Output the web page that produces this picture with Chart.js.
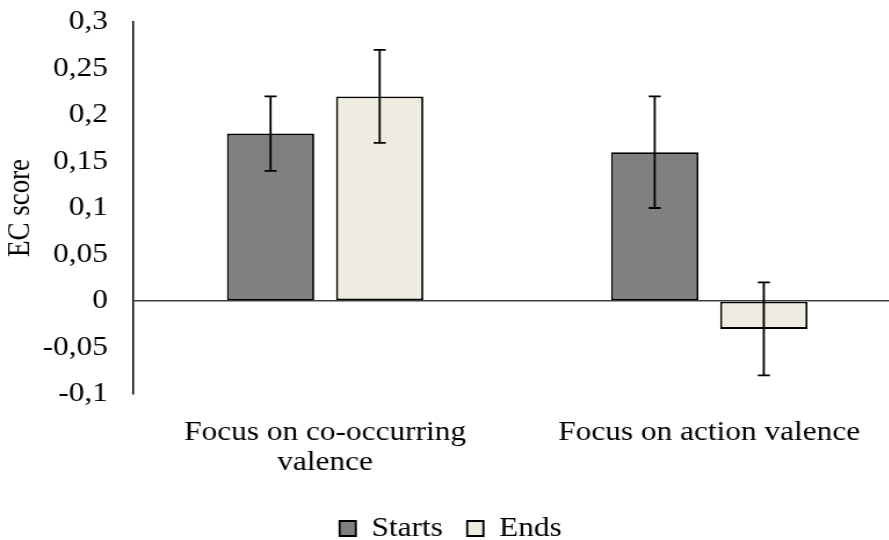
<!DOCTYPE html>
<html>
<head>
<meta charset="utf-8">
<script src="https://cdn.jsdelivr.net/npm/chart.js@4.4.1/dist/chart.umd.min.js"></script>
<style>
  html, body { margin: 0; padding: 0; background: #fff; overflow: hidden; }
  #wrap { width: 889px; height: 540px; overflow: hidden; position: relative; }
  /* the chart is laid out narrow and widened horizontally */
  canvas { display: block; transform: scaleX(1.16); transform-origin: 0 0; }
</style>
</head>
<body>
<div id="wrap"><canvas id="chart" width="777" height="540"></canvas></div>
<script>
// Condition groups on the x axis
const categories = [['Focus on co-occurring', 'valence'], 'Focus on action valence'];
// Mean EC scores per condition
const startsValues = [0.18, 0.16];
const endsValues = [0.22, -0.03];
// Error bar half-lengths
const startsErrors = [0.04, 0.06];
const endsErrors = [0.05, 0.05];
// Value axis range and step
const yMin = -0.1;
const yMax = 0.3;
const yStep = 0.05;

const FONT = "'Liberation Serif', 'Times New Roman', serif";

const errorBars = {
  id: 'errorBars',
  afterDatasetsDraw(chart) {
    const ctx = chart.ctx;
    const yScale = chart.scales.y;
    chart.data.datasets.forEach((ds, i) => {
      const meta = chart.getDatasetMeta(i);
      meta.data.forEach((bar, j) => {
        const v = ds.data[j];
        const e = ds.errors[j];
        const yTop = yScale.getPixelForValue(v + e);
        const yBot = yScale.getPixelForValue(v - e);
        const x = bar.x;
        ctx.save();
        ctx.strokeStyle = '#000';
        ctx.lineWidth = 1.8;
        ctx.beginPath();
        ctx.moveTo(x, yTop); ctx.lineTo(x, yBot);
        ctx.moveTo(x - 5.2, yTop); ctx.lineTo(x + 5.2, yTop);
        ctx.moveTo(x - 5.2, yBot); ctx.lineTo(x + 5.2, yBot);
        ctx.stroke();
        ctx.restore();
      });
    });
  }
};

new Chart(document.getElementById('chart'), {
  type: 'bar',
  data: {
    labels: categories,
    datasets: [
      {
        label: 'Starts',
        data: startsValues,
        errors: startsErrors,
        backgroundColor: '#808080',
        borderColor: '#000',
        borderWidth: 1.8,
        borderSkipped: false,
        categoryPercentage: 0.568,
        barPercentage: 0.8
      },
      {
        label: 'Ends',
        data: endsValues,
        errors: endsErrors,
        backgroundColor: '#EEECE1',
        borderColor: '#000',
        borderWidth: 1.8,
        borderSkipped: false,
        categoryPercentage: 0.568,
        barPercentage: 0.8
      }
    ]
  },
  options: {
    responsive: false,
    animation: false,
    devicePixelRatio: 1,
    layout: { padding: { top: 22, right: 0, bottom: -12, left: 0 } },
    plugins: {
      tooltip: { enabled: false },
      legend: {
        position: 'bottom',
        labels: {
          color: '#000',
          font: { family: FONT, size: 27 },
          boxWidth: 14,
          boxHeight: 15,
          padding: 21
        }
      }
    },
    scales: {
      x: {
        grid: { display: false },
        border: { display: false },
        ticks: {
          color: '#000',
          font: { family: FONT, size: 27, lineHeight: 1.11 },
          padding: 16,
          maxRotation: 0,
          autoSkip: false
        },
        afterFit(scale) {
          scale.height = 100;
          scale.paddingLeft = 0;
          scale.paddingRight = 0;
        }
      },
      y: {
        min: yMin,
        max: yMax,
        ticks: {
          stepSize: yStep,
          color: '#000',
          font: { family: FONT, size: 27 },
          padding: 21.6,
          callback: (v) => Number(v.toFixed(2)).toString().replace('.', ',')
        },
        grid: {
          drawTicks: false,
          lineWidth: 1.5,
          color: (c) => (c.tick && Math.abs(c.tick.value) < 1e-9) ? '#404040' : 'rgba(0,0,0,0)'
        },
        border: { display: true, color: '#000', width: 1.5 },
        title: {
          display: true,
          text: 'EC score',
          color: '#000',
          font: { family: FONT, size: 27 },
          padding: { top: 2, bottom: 0 }
        },
        afterFit(scale) {
          scale.width = 114.7;
          scale.paddingTop = 0;
          scale.paddingBottom = 0;
        }
      }
    }
  },
  plugins: [errorBars]
});
</script>
</body>
</html>
